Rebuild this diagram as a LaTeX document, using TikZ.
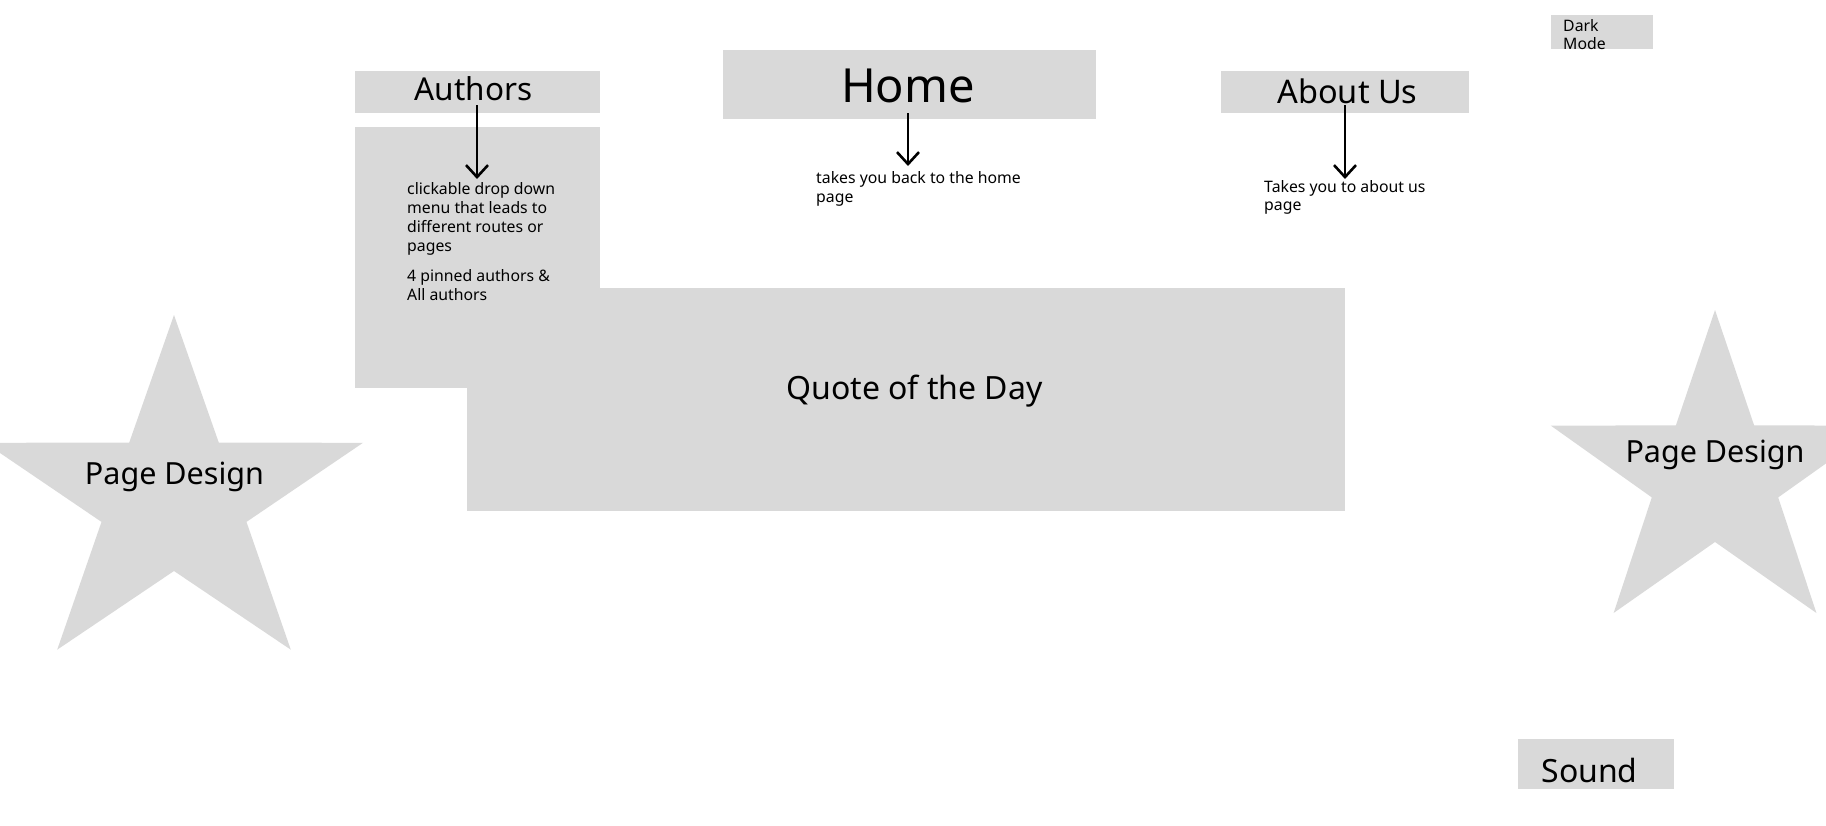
\documentclass[tikz,border=0pt]{standalone}
\usepackage{fontspec}
\setmainfont{Noto Sans}
\usetikzlibrary{arrows.meta}
\definecolor{boxgray}{RGB}{217,217,217}

\begin{document}
\begin{tikzpicture}[x=1pt,y=-1pt,
  block/.style={fill=boxgray, draw=none, inner sep=0pt, outer sep=0pt},
  head/.style={inner sep=0pt, anchor=base, font=\fontsize{31.5}{37}\selectfont},
  note/.style={inner sep=0pt, anchor=base west, align=left, font=\fontsize{15.8}{19}\selectfont},
  arr/.style={line width=2.6pt, -{Straight Barb[length=12pt,width=22pt]}}]

\useasboundingbox (0,0) rectangle (1826,825);
\clip (0,0) rectangle (1826,825);

% decorative stars
\fill[boxgray] (174,315) -- (218.8,442.6) -- (363,442.8) -- (246.5,521.9) -- (290.8,649.7)
  -- (174,571) -- (57.2,649.7) -- (101.5,521.9) -- (-15,442.8) -- (129.2,442.6) -- cycle;
\fill[boxgray] (1715,310) -- (1754.1,425.3) -- (1879.1,425.7) -- (1778.2,497.4) -- (1816.4,613)
  -- (1715,542) -- (1613.6,613) -- (1651.8,497.4) -- (1550.9,425.7) -- (1675.9,425.3) -- cycle;
\node[head, font=\fontsize{30.5}{36}\selectfont] (designL) at (174.5,484) {Page Design};
\node[head, font=\fontsize{30.5}{36}\selectfont] (designR) at (1715,462) {Page Design};

% navigation boxes
\node[block, minimum width=102pt, minimum height=34pt] (dark) at (1602,32) {};
\node[block, minimum width=245pt, minimum height=42pt] (authors) at (477.5,92) {};
\node[block, minimum width=373pt, minimum height=69pt] (home) at (909.5,84.5) {};
\node[block, minimum width=248pt, minimum height=42pt] (about) at (1345,92) {};
\node[block, minimum width=245pt, minimum height=261pt] (menu) at (477.5,257.5) {};
\node[block, minimum width=878pt, minimum height=223pt] (quote) at (906,399.5) {};
\node[block, minimum width=156pt, minimum height=50pt] (sound) at (1596,764) {};

% box labels (base anchor of a multi-line note is its last line)
\node[note, font=\fontsize{15.8}{18}\selectfont] (darkText) at (1563,49) {Dark\\Mode};
\node[head] (authorsText) at (473.5,100.7) {Authors};
\node[head, font=\fontsize{47}{56}\selectfont] (homeText) at (908,102.7) {Home};
\node[head, font=\fontsize{32.5}{38}\selectfont] (aboutText) at (1347.5,103) {About Us};
\node[head, font=\fontsize{32}{38}\selectfont] (quoteText) at (914.5,399) {Quote of the Day};
\node[head, font=\fontsize{32}{38}\selectfont] (soundText) at (1589.5,782) {Sound};

% notes
\node[note] (menuNote) at (407,251) {clickable drop down\\menu that leads to\\different routes or\\pages};
\node[note] (pinNote) at (407,300) {4 pinned authors \&\\All authors};
\node[note] (homeNote) at (816,202) {takes you back to the home\\page};
\node[note, font=\fontsize{15.8}{18}\selectfont] (aboutNote) at (1264,210) {Takes you to about us\\page};

% arrows from the boxes to their notes
\coordinate (authorsTip) at (477,179);
\coordinate (homeTip) at (908,166);
\coordinate (aboutTip) at (1345,179);
\draw[arr] ([yshift=8pt]authors.south -| authorsTip) -- (authorsTip);
\draw[arr] ([yshift=6pt]home.south -| homeTip) -- (homeTip);
\draw[arr] ([yshift=8pt]about.south -| aboutTip) -- (aboutTip);
\end{tikzpicture}
\end{document}
